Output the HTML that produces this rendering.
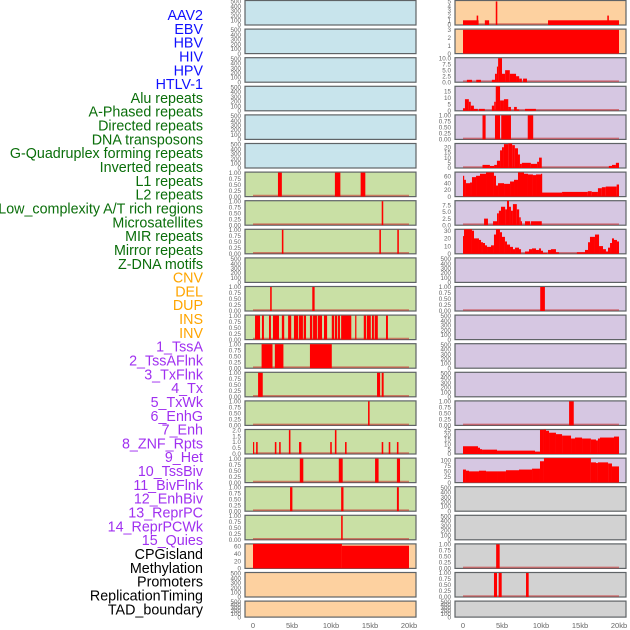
<!DOCTYPE html>
<html><head><meta charset="utf-8"><style>
html,body{margin:0;padding:0;background:#fff;}
svg{display:block;font-family:"Liberation Sans",sans-serif;}
</style></head><body>
<svg id="chart" width="630" height="630" viewBox="0 0 630 630"></svg>
<script>
// ---- label data ----
const trackLabels = ["AAV2","EBV","HBV","HIV","HPV","HTLV-1","Alu repeats","A-Phased repeats","Directed repeats","DNA transposons","G-Quadruplex forming repeats","Inverted repeats","L1 repeats","L2 repeats","Low_complexity A/T rich regions","Microsatellites","MIR repeats","Mirror repeats","Z-DNA motifs","CNV","DEL","DUP","INS","INV","1_TssA","2_TssAFlnk","3_TxFlnk","4_Tx","5_TxWk","6_EnhG","7_Enh","8_ZNF_Rpts","9_Het","10_TssBiv","11_BivFlnk","12_EnhBiv","13_ReprPC","14_ReprPCWk","15_Quies","CPGisland","Methylation","Promoters","ReplicationTiming","TAD_boundary"];
const labelGroups = [6,13,5,15,5];
const groupColors = ["#1010ff","#0a6e0a","#ffa500","#a030f0","#000000"];
const xTickLabels = ["0","5kb","10kb","15kb","20kb"];
const xTickValues = [0,5,10,15,20];

// ---- tick sets ----
const ticks500 = [0,100,200,300,400,500];
const ticks1 = [0,0.25,0.5,0.75,1];

// ---- middle column series: [startKb, endKb, value] ----
const midL1 = [[3.2,3.7,1],[10.5,11.2,1],[13.8,14.4,1]];
const midL2 = [[16.5,16.7,1]];
const midLowComplexity = [[3.7,3.9,1],[16.2,16.4,1],[18.5,18.7,1]];
const midMir = [[2.2,2.4,1],[7.6,7.9,1]];
const midMirror = [[0.26,0.9,1],[1.15,1.4,1],[2.05,2.3,1],[2.56,3.33,1],[3.7,4.0,1],[4.5,4.9,1],[5.25,5.8,1],[5.9,6.4,1],[6.5,6.8,1],[7.3,7.6,1],[7.7,8.2,1],[8.3,8.85,1],[9.1,9.5,1],[10.1,10.4,1],[10.5,10.8,1],[10.9,11.15,1],[11.3,12.6,1],[13.1,13.2,1],[14.2,14.5,1],[14.6,15.1,1],[15.25,15.5,1],[15.6,16.0,1],[17.05,17.3,1]];
const midDel = [[1.1,2.5,1],[2.8,3.9,1],[7.3,10.1,1]];
const midDup = [[0.65,1.25,1],[15.9,16.3,1],[16.5,16.75,1]];
const midIns = [[14.75,14.95,1]];
const midInv = [[0,0.1,1],[0.4,0.6,1],[2.8,3.0,1],[3.35,3.55,1],[4.6,4.8,2],[5.9,6.2,1],[9.9,10.1,1],[10.5,10.7,2],[11.8,12.0,1],[16.5,16.7,1],[17.4,17.6,1],[18.45,18.65,1]];
const midTssA = [[6.0,6.45,1],[11.0,11.5,1],[15.65,16.1,1],[18.45,18.85,1]];
const midTssAFlnk = [[4.75,5.05,1],[11.3,11.6,1],[18.45,18.7,1]];
const midTxFlnk = [[11.3,11.5,1]];
const midCpg = [[0,11.4,67],[11.4,20,62]];

// ---- right column series ----
const rightAav2 = [[0,2.0,1],[1.75,1.95,2],[2.8,3.35,1],[4.2,4.4,5],[10.9,20,1],[18.5,18.7,2]];
const rightEbv = [[0,20,3]];
const rightHiv = [[0.5,1.15,1],[1.7,2.3,1],[3.7,4.1,1],[4.1,4.35,3.5],[4.35,4.5,6.5],[4.5,5.0,10],[5.0,5.4,3.5],[5.4,6.0,5],[6.0,6.8,3.5],[6.8,7.2,2.5],[7.2,7.55,1.5],[7.7,8.2,1.5]];
const rightHpv = [[0,0.25,2],[0.25,0.75,9],[0.75,1.0,7],[1.0,1.4,4],[1.4,1.9,1.5],[2.05,2.8,1.5],[3.7,4.0,4],[4.0,4.2,7],[4.2,4.75,20],[4.75,5.25,8],[5.25,5.8,9],[5.8,6.15,3],[6.55,6.9,3],[6.9,7.2,1],[7.95,9.35,1.5]];
const rightAlu = [[2.5,2.9,1],[4.1,4.75,1],[4.9,6.15,1],[8.3,9.0,1]];
const rightDirected = [[2.5,3.45,3],[3.45,4.0,2],[4.0,4.35,3],[4.35,4.75,7],[4.75,5.0,17],[5.0,5.25,20],[5.25,5.8,23],[5.8,6.3,24],[6.3,6.65,22],[6.65,7.05,19],[7.05,7.3,13],[7.3,7.55,4],[7.55,8.7,5],[8.7,9.5,4],[9.5,9.75,6],[9.75,10.1,10],[18.7,19.1,2],[19.1,19.6,3],[19.6,20,5]];
const rightGquad = [[0,0.13,62],[0.13,0.38,50],[0.38,0.9,40],[0.9,1.15,42],[1.15,1.67,58],[1.67,2.18,62],[2.18,2.95,68],[2.95,3.97,72],[3.97,4.23,62],[4.23,4.49,33],[4.49,5.26,40],[5.26,6.03,38],[6.03,6.54,45],[6.54,7.05,50],[7.05,7.82,72],[7.82,8.33,68],[8.33,8.97,66],[8.97,9.36,64],[9.36,10.0,66],[10.0,10.13,68],[10.13,12.7,12],[12.7,16.0,14],[16.0,16.5,16],[16.5,17.3,14],[17.3,17.8,25],[17.8,18.3,28],[18.3,19.7,30],[19.7,20,36]];
const rightInverted = [[2.7,3.2,2.5],[3.85,4.36,1.5],[4.36,4.6,4.5],[4.6,4.87,5.5],[4.87,5.4,7],[5.4,5.64,6],[5.64,5.9,9.5],[5.9,6.15,7],[6.15,6.4,5.5],[6.4,6.9,8],[6.9,7.2,6],[7.2,7.4,3],[7.4,7.56,1.5],[7.95,8.6,1.5],[8.7,10.1,1.5]];
const rightL1 = [[0,0.13,23],[0.13,1.15,35],[1.15,1.41,30],[1.41,2.05,20],[2.05,2.31,18],[2.31,2.56,15],[2.56,2.82,14],[2.82,3.08,11],[3.08,3.59,9],[3.59,3.97,11],[3.97,4.23,25],[4.23,4.74,35],[4.74,5.0,28],[5.0,5.38,22],[5.38,5.64,16],[5.64,6.03,12],[6.03,6.41,9],[6.41,6.67,6],[6.67,7.18,8],[7.18,7.44,6],[7.95,8.46,3],[8.46,8.85,6],[8.85,9.36,7],[9.36,9.74,5],[9.74,10.0,7],[10.0,10.26,4],[10.26,10.77,1],[10.9,11.28,5],[11.28,11.92,6],[11.92,12.3,2],[14.6,15.64,2],[15.64,16.03,5],[16.03,16.28,15],[16.28,16.92,22],[16.92,17.44,25],[17.44,17.95,10],[17.95,18.33,6],[18.33,18.59,3],[18.59,18.85,8],[18.85,19.1,14],[19.1,19.36,20],[19.36,19.74,18],[19.74,20,16]];
const rightCnv = [[9.9,10.5,1]];
const rightTssAFlnk = [[13.6,14.2,1]];
const rightTxFlnk = [[0,1.92,8],[1.92,2.18,6.5],[2.18,2.44,5],[2.44,4.36,4.5],[4.36,9.23,3.5],[9.23,9.87,2.5],[9.87,10.38,25],[10.38,10.64,26],[10.64,11.03,24],[11.03,11.92,22],[11.92,12.7,20.5],[12.7,13.85,19],[13.85,14.36,16],[14.36,15.26,17],[15.26,16.4,16],[16.4,17.05,15],[17.05,17.3,14],[17.3,17.56,16],[17.56,19.36,17],[19.36,20,18]];
const rightTx = [[0,0.38,58],[0.38,0.77,53],[0.77,2.05,50],[2.05,2.95,53],[2.95,4.36,50],[4.36,5.51,50],[5.51,7.18,55],[7.18,8.85,58],[8.85,9.87,62],[9.87,10.38,95],[10.38,16.4,110],[16.4,17.05,90],[17.05,17.3,87],[17.3,18.6,90],[18.6,19.1,85],[19.1,20,72]];
const rightCpg = [[4.25,4.7,1]];
const rightMeth = [[3.97,4.36,1],[4.57,4.96,1],[8.08,8.42,1]];

const BLUE="#c8e4ec", GREEN="#c9e0a5", ORANGE="#fdd1a0", PURPLE="#d6c7e2", GREY="#d2d2d2";

const midPanels = [
 {bg:BLUE,ticks:ticks500,ymax:520,data:null},
 {bg:BLUE,ticks:ticks500,ymax:520,data:null},
 {bg:BLUE,ticks:ticks500,ymax:520,data:null},
 {bg:BLUE,ticks:ticks500,ymax:520,data:null},
 {bg:BLUE,ticks:ticks500,ymax:520,data:null},
 {bg:BLUE,ticks:ticks500,ymax:520,data:null},
 {bg:GREEN,ticks:ticks1,ymax:1.02,data:midL1,name:"l1"},
 {bg:GREEN,ticks:ticks1,ymax:1.02,data:midL2,name:"l2"},
 {bg:GREEN,ticks:ticks1,ymax:1.02,data:midLowComplexity,name:"low-complexity"},
 {bg:GREEN,ticks:ticks500,ymax:520,data:null},
 {bg:GREEN,ticks:ticks1,ymax:1.02,data:midMir,name:"mir"},
 {bg:GREEN,ticks:ticks1,ymax:1.02,data:midMirror,name:"mirror"},
 {bg:GREEN,ticks:ticks1,ymax:1.02,data:midDel,name:"del"},
 {bg:GREEN,ticks:ticks1,ymax:1.02,data:midDup,name:"dup"},
 {bg:GREEN,ticks:ticks1,ymax:1.02,data:midIns,name:"ins"},
 {bg:GREEN,ticks:[0,0.5,1,1.5,2],ymax:2.05,data:midInv,name:"inv",fmt:1},
 {bg:GREEN,ticks:ticks1,ymax:1.02,data:midTssA,name:"tssa"},
 {bg:GREEN,ticks:ticks1,ymax:1.02,data:midTssAFlnk,name:"tssaflnk"},
 {bg:GREEN,ticks:ticks1,ymax:1.02,data:midTxFlnk,name:"txflnk"},
 {bg:ORANGE,ticks:[0,20,40,60],ymax:67,data:midCpg,name:"cpg",nobase:true,fmt:0},
 {bg:ORANGE,ticks:ticks500,ymax:520,data:null},
 {bg:ORANGE,ticks:ticks500,ymax:520,data:null}
];
const rightPanels = [
 {bg:ORANGE,ticks:[0,1,2,3,4,5],ymax:5.2,data:rightAav2,name:"aav2",fmt:0},
 {bg:ORANGE,ticks:[0,1,2,3],ymax:3.1,data:rightEbv,name:"ebv",nobase:true,fmt:0},
 {bg:PURPLE,ticks:[0,2.5,5,7.5,10],ymax:10.2,data:rightHiv,name:"hiv",fmt:1},
 {bg:PURPLE,ticks:[0,5,10,15],ymax:19,data:rightHpv,name:"hpv",fmt:0},
 {bg:PURPLE,ticks:ticks1,ymax:1.02,data:rightAlu,name:"alu"},
 {bg:PURPLE,ticks:[0,5,10,15,20],ymax:23.6,data:rightDirected,name:"directed",fmt:0},
 {bg:PURPLE,ticks:[0,20,40,60],ymax:73,data:rightGquad,name:"gquad",fmt:0},
 {bg:PURPLE,ticks:[0,2.5,5,7.5],ymax:9.3,data:rightInverted,name:"inverted",fmt:1},
 {bg:PURPLE,ticks:[0,10,20,30],ymax:31.8,data:rightL1,name:"l1",fmt:0},
 {bg:PURPLE,ticks:ticks500,ymax:520,data:null},
 {bg:PURPLE,ticks:ticks1,ymax:1.02,data:rightCnv,name:"cnv"},
 {bg:PURPLE,ticks:ticks500,ymax:520,data:null},
 {bg:PURPLE,ticks:ticks500,ymax:520,data:null},
 {bg:PURPLE,ticks:ticks500,ymax:520,data:null},
 {bg:PURPLE,ticks:ticks1,ymax:1.02,data:rightTssAFlnk,name:"tssaflnk"},
 {bg:PURPLE,ticks:[0,5,10,15,20,25],ymax:25.3,data:rightTxFlnk,name:"txflnk",fmt:0},
 {bg:PURPLE,ticks:[0,25,50,75,100],ymax:109,data:rightTx,name:"tx",fmt:0},
 {bg:GREY,ticks:ticks500,ymax:520,data:null},
 {bg:GREY,ticks:ticks500,ymax:520,data:null},
 {bg:GREY,ticks:ticks1,ymax:1.02,data:rightCpg,name:"cpg"},
 {bg:GREY,ticks:ticks1,ymax:1.02,data:rightMeth,name:"methylation"},
 {bg:GREY,ticks:ticks500,ymax:520,data:null}
];

const NS="http://www.w3.org/2000/svg";
const svg=document.getElementById('chart');
function mk(tag,attrs,parent){const e=document.createElementNS(NS,tag);for(const k in attrs)e.setAttribute(k,attrs[k]);(parent||svg).appendChild(e);return e;}

let li=0;
labelGroups.forEach((n,g)=>{for(let k=0;k<n;k++){
  const t=mk('text',{x:203,y:(15+13.82*li+5).toFixed(1),'text-anchor':'end','font-size':'14.3',fill:groupColors[g]});
  t.textContent=trackLabels[li];
  
  
  li++;}});

const cols=[{x0:245,x1:416,kb0:253,kb20:409,tickX:241,panels:midPanels,id:'mid'},
            {x0:455,x1:626,kb0:463,kb20:619,tickX:451,panels:rightPanels,id:'right'}];

function fmtTick(v,p){ if(p.ticks===ticks1) return v.toFixed(2); if(p.fmt===1) return v.toFixed(1); return String(v);}

cols.forEach(c=>{
  const xs=kb=>c.kb0+(c.kb20-c.kb0)*kb/20;
  c.panels.forEach((p,i)=>{
    const top=0.5+28.6*i, h=(i===21?16:24.5), bottom=top+h;
    const ys=v=>bottom-Math.min(v,p.ymax)/p.ymax*h;
    const g=mk('g',{});
    
    
    const r=mk('rect',{x:c.x0,y:top,width:c.x1-c.x0,height:h,fill:p.bg,stroke:'#5f6366','stroke-width':1.2},g);
    
    
    p.ticks.forEach(tv=>{
      const t=mk('text',{x:c.tickX,y:(ys(tv)+2.2).toFixed(1),'text-anchor':'end','font-size':'6.3',fill:'#666'},g);
      t.textContent=fmtTick(tv,p);
      
      
    });
    if(p.data){
      if(!p.nobase){
        const b=mk('line',{x1:xs(0),x2:xs(20),y1:bottom-1,y2:bottom-1,stroke:'rgba(200,40,40,0.55)','stroke-width':1.6},g);
        
        
      }
      p.data.forEach(d=>{
        const x1=xs(d[0]), x2=xs(d[1]), y=ys(d[2]);
        const bar=mk('rect',{x:x1.toFixed(2),y:y.toFixed(2),width:Math.max(1.2,x2-x1).toFixed(2),height:(bottom-y).toFixed(2),fill:'#ff0000'},g);
        
        
      });
    }
  });
  xTickValues.forEach((v,k)=>{
    const t=mk('text',{x:xs(v),y:628,'text-anchor':'middle','font-size':'7.5',fill:'#666'});
    t.textContent=xTickLabels[k];
    
    
  });
});
</script>
</body></html>
